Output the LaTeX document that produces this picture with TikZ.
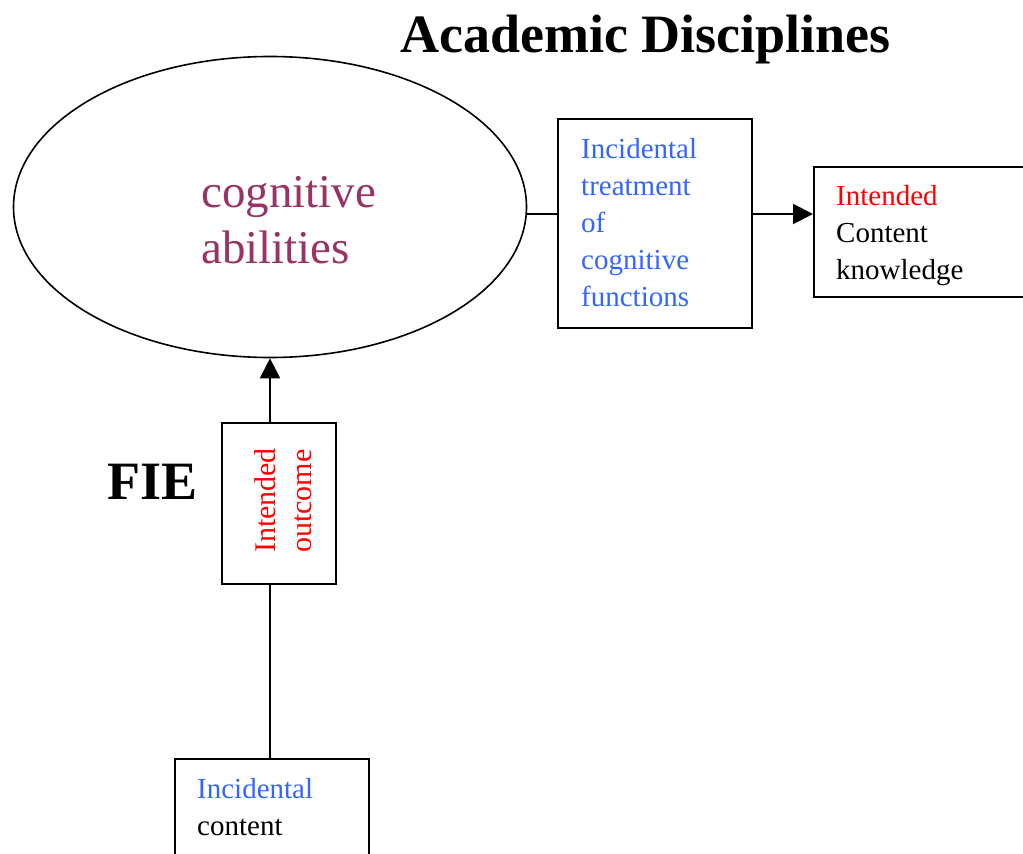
\documentclass[tikz,border=0pt]{standalone}
\usepackage{fontspec}
\setmainfont{Liberation Serif}
\usetikzlibrary{arrows.meta,calc,shapes.geometric}
\definecolor{cogpurple}{HTML}{993366}
\definecolor{incblue}{HTML}{3366FF}
\definecolor{intred}{HTML}{FF0000}
\tikzset{
  boxnode/.style={draw=black, line width=2pt, rectangle, inner sep=0pt},
  boxtext/.style={font=\fontsize{29}{37}\selectfont, align=left, inner sep=0pt},
  conn/.style={line width=2pt},
  arr/.style={conn, -{Triangle[length=20pt,width=20pt]}},
}
\begin{document}
\begin{tikzpicture}[x=1pt,y=-1pt]
\useasboundingbox (0,0) rectangle (1023,854);
\clip (0,0) rectangle (1023,854);
\fill[white] (0,0) rectangle (1023,854);

% title
\node[font=\fontsize{54}{60}\selectfont\bfseries, anchor=base, inner sep=0pt] (title) at (645.5,52) {Academic Disciplines};

% ellipse
\node[draw=black, line width=1.6pt, ellipse, minimum width=513pt, minimum height=301pt, inner sep=0pt] (cog) at (270,207) {};
\node[font=\fontsize{47}{56}\selectfont, text=cogpurple, align=left, inner sep=0pt, anchor=north west] (cogtext) at (201,176) {cognitive\\abilities};

% middle box
\node[boxnode, minimum width=194pt, minimum height=209pt] (treat) at (655,223.5) {};
\node[boxtext, text=incblue, anchor=north west] (treattext) at (581,138) {Incidental\\treatment\\of\\cognitive\\functions};

% right box
\node[boxnode, minimum width=230pt, minimum height=130pt] (know) at (929,232) {};
\node[boxtext, anchor=north west] (knowtext) at (836,185) {\textcolor{intred}{Intended}\\Content\\knowledge};

% FIE
\node[font=\fontsize{54}{60}\selectfont\bfseries, anchor=base, inner sep=0pt] (fie) at (152.5,499) {FIE};

% intended outcome box
\node[boxnode, minimum width=114pt, minimum height=161pt] (outbox) at (279,503.5) {};
\node[font=\fontsize{30}{36}\selectfont, align=left, inner sep=0pt, text=intred, rotate=90, anchor=center] (outtext) at (283,500.5) {Intended\\outcome};

% bottom box
\node[boxnode, minimum width=194pt, minimum height=140pt, anchor=north west] (incbox) at (174,758) {};
\node[boxtext, anchor=north west] (inctext) at (197,778) {\textcolor{incblue}{Incidental}\\content};

% connectors
\coordinate (hy) at (0,214);
\draw[conn] (cog.east |- hy) -- (treat.west |- hy);
\draw[arr] (treat.east |- hy) -- (know.west |- hy);
\draw[arr] (outbox.north -| cog.south) -- (cog.south);
\draw[conn] (incbox.north -| cog.south) -- (outbox.south -| cog.south);
\end{tikzpicture}
\end{document}
